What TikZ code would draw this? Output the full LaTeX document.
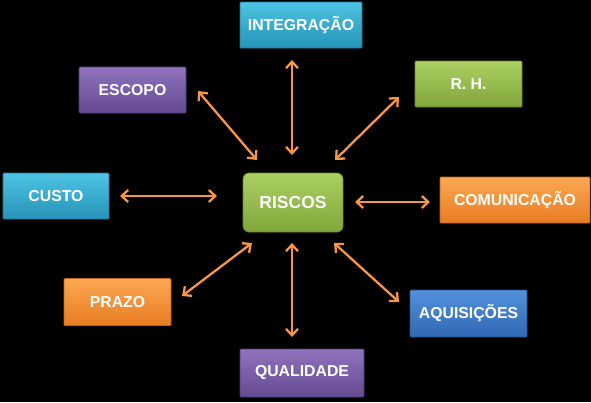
\documentclass[tikz,border=0pt]{standalone}
\usepackage{fontspec}
\setmainfont{Liberation Sans}
\usetikzlibrary{arrows.meta}
\definecolor{aquaL}{RGB}{78,195,228}
\definecolor{aquaD}{RGB}{38,148,182}
\definecolor{aquaB}{RGB}{35,120,150}
\definecolor{purL}{RGB}{145,114,190}
\definecolor{purD}{RGB}{100,74,145}
\definecolor{purB}{RGB}{80,58,118}
\definecolor{grnL}{RGB}{172,208,98}
\definecolor{grnD}{RGB}{128,165,58}
\definecolor{grnB}{RGB}{105,135,45}
\definecolor{orgL}{RGB}{252,168,82}
\definecolor{orgD}{RGB}{232,124,36}
\definecolor{orgB}{RGB}{190,100,30}
\definecolor{bluL}{RGB}{84,145,220}
\definecolor{bluD}{RGB}{48,104,180}
\definecolor{bluB}{RGB}{38,82,145}
\definecolor{arrowc}{RGB}{247,150,70}
\tikzset{
  box/.style={draw, line width=0.8pt, rounded corners=1pt, minimum height=46pt,
    inner sep=0pt, text=white, font=\bfseries\fontsize{15.8}{16}\selectfont},
  aqua/.style={box, top color=aquaL, bottom color=aquaD, draw=aquaB},
  purp/.style={box, top color=purL, bottom color=purD, draw=purB},
  grn/.style={box, top color=grnL, bottom color=grnD, draw=grnB},
  org/.style={box, top color=orgL, bottom color=orgD, draw=orgB},
  blu/.style={box, top color=bluL, bottom color=bluD, draw=bluB},
  link/.style={draw=arrowc, line width=2.3pt,
    {Straight Barb[length=6.5pt,width=12pt,line width=2.3pt]}-{Straight Barb[length=6.5pt,width=12pt,line width=2.3pt]}}
}
\begin{document}
\begin{tikzpicture}[x=1pt,y=-1pt]
\fill[black] (0,0) rectangle (591,402);
\useasboundingbox (0,0) rectangle (591,402);
\node[aqua, minimum width=122pt] (integ) at (301,25) {INTEGRAÇÃO};
\node[purp, minimum width=107pt] (escopo) at (132.5,90) {ESCOPO};
\node[grn, minimum width=107pt] (rh) at (468.5,84) {R. H.};
\node[aqua, minimum width=106pt] (custo) at (56,196) {CUSTO};
\node[grn, minimum width=100pt, minimum height=59pt, rounded corners=6pt,
  font=\bfseries\fontsize{17.5}{18}\selectfont] (riscos) at (293,202.5) {RISCOS};
\node[org, minimum width=150pt] (comun) at (515,200) {COMUNICAÇÃO};
\node[org, minimum width=107pt, minimum height=47pt] (prazo) at (117.5,302) {PRAZO};
\node[blu, minimum width=117pt, minimum height=47pt] (aquis) at (468.5,313.5) {AQUISIÇÕES};
\node[purp, minimum width=124pt, minimum height=48pt] (qual) at (302,373) {QUALIDADE};
% arrow end points
\coordinate (t1) at (292,60);  \coordinate (t2) at (292,155);
\coordinate (e1) at (198,91);  \coordinate (e2) at (257,160);
\coordinate (r1) at (399,97);  \coordinate (r2) at (335,160);
\coordinate (c1) at (120,196); \coordinate (c2) at (217,196);
\coordinate (m1) at (355,202); \coordinate (m2) at (430,202);
\coordinate (p1) at (182,296); \coordinate (p2) at (252,243);
\coordinate (a1) at (334,243); \coordinate (a2) at (399,302);
\coordinate (b1) at (292,243); \coordinate (b2) at (292,337);
\draw[link] (t1) -- (t2);
\draw[link] (e1) -- (e2);
\draw[link] (r1) -- (r2);
\draw[link] (c1) -- (c2);
\draw[link] (m1) -- (m2);
\draw[link] (p1) -- (p2);
\draw[link] (a1) -- (a2);
\draw[link] (b1) -- (b2);
\end{tikzpicture}
\end{document}
